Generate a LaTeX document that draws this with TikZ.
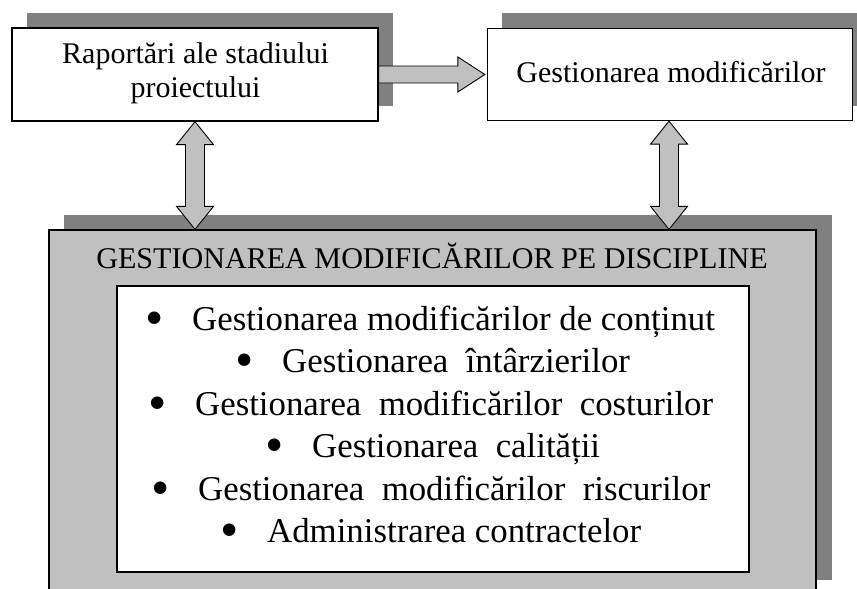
\documentclass[tikz,border=0pt]{standalone}
\usepackage{fontspec}
\setmainfont{Liberation Serif}
\usetikzlibrary{calc}
\definecolor{shadowgray}{HTML}{808080}
\definecolor{fillgray}{HTML}{C0C0C0}
\newcommand{\bigbul}{\makebox[47.2pt][l]{\raisebox{-5pt}{\scalebox{1.5}{\textbullet}}}}
\begin{document}
\begin{tikzpicture}[x=1pt,y=-1pt,
  shadowfill/.style={fill=shadowgray, draw=none},
  whitebox/.style={draw=black, line width=1.3pt, fill=white, rectangle, inner sep=0pt},
  graybox/.style={draw=black, line width=1.3pt, fill=fillgray, rectangle, inner sep=0pt},
  blockarrow/.style={draw=black, line width=0.9pt, fill=fillgray, line join=miter},
  toptext/.style={font=\fontsize{30}{34}\selectfont, inner sep=0pt, anchor=base},
  titletext/.style={font=\fontsize{30.1}{34}\selectfont, inner sep=0pt, anchor=base},
  itemtext/.style={font=\fontsize{34.8}{40}\selectfont, inner sep=0pt, anchor=base west}
]
\useasboundingbox (0,0) rectangle (857,589);
\clip (0,0) rectangle (857,589);

% shadows
\fill[shadowfill] (27,13) rectangle (393,106);
\fill[shadowfill] (502,13) rectangle (870,106);
\fill[shadowfill] (64,215) rectangle (832,580);

% boxes
\node[whitebox, minimum width=366pt, minimum height=93pt] (rap) at (195,74.5) {};
\node[whitebox, minimum width=365pt, minimum height=92pt] (gm) at (670,74.5) {};
\node[graybox, minimum width=767pt, minimum height=365pt] (big) at (432.5,412.5) {};
\node[whitebox, minimum width=632pt, minimum height=286pt] (inner) at (433,429) {};

% right block arrow
\coordinate (a1s) at (rap.east);
\coordinate (a1e) at ($(gm.west)+(-2,0)$);
\draw[blockarrow] ($(a1s)+(0,-8.5)$) -- ($(a1e)+(-27,-8.5)$) -- ($(a1e)+(-27,-17.5)$) -- (a1e)
  -- ($(a1e)+(-27,17.5)$) -- ($(a1e)+(-27,8.5)$) -- ($(a1s)+(0,8.5)$) -- cycle;

% vertical double arrows
\coordinate (l1t) at (rap.south);
\coordinate (l1b) at (rap.south |- big.north);
\coordinate (r1t) at ($(gm.south)+(-1,0)$);
\coordinate (r1b) at (r1t |- big.north);
\foreach \t/\b in {l1t/l1b, r1t/r1b}{
  \draw[blockarrow] (\t) -- ++(18.5,23) -- ++(-9,0) -- ($(\b)+(9.5,-23)$) -- ++(9,0) -- (\b)
    -- ++(-18.5,-23) -- ++(9,0) -- ($(\t)+(-9.5,23)$) -- ++(-9,0) -- cycle;
}

% texts
\node[toptext] (rapA) at (195.5,63) {Raportări ale stadiului};
\node[toptext] (rapB) at (195.5,97) {proiectului};
\node[toptext] (gmt) at (671,82) {Gestionarea modificărilor};
\node[titletext] (title) at (432,268) {GESTIONAREA MODIFICĂRILOR PE DISCIPLINE};

\node[itemtext] (i1) at (192-47.2,330) {\bigbul Gestionarea modificărilor de conținut};
\node[itemtext] (i2) at (282-47.2,372.5) {\bigbul Gestionarea\ \ întârzierilor};
\node[itemtext] (i3) at (195-47.2,415) {\bigbul Gestionarea\ \ modificărilor\ \ costurilor};
\node[itemtext] (i4) at (312-47.2,457.5) {\bigbul Gestionarea\ \ calității};
\node[itemtext] (i5) at (198-47.2,500) {\bigbul Gestionarea\ \ modificărilor\ \ riscurilor};
\node[itemtext] (i6) at (267-47.2,542.5) {\bigbul Administrarea contractelor};
\end{tikzpicture}
\end{document}
